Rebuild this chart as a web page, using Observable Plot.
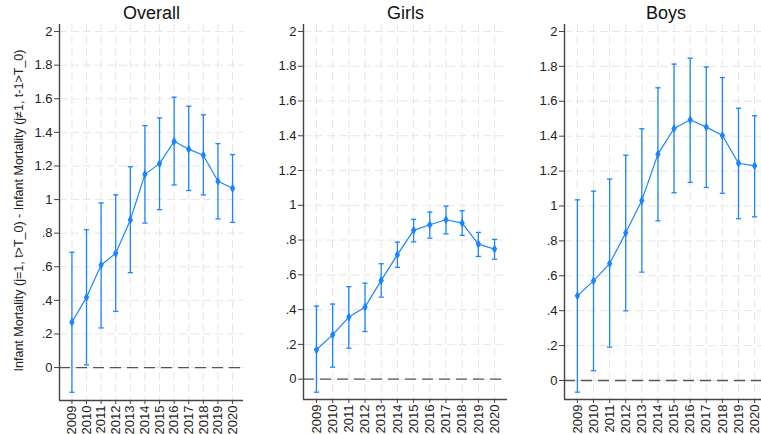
<!DOCTYPE html>
<html><head><meta charset="utf-8">
<script src="https://cdn.jsdelivr.net/npm/d3@7"></script>
<script src="https://cdn.jsdelivr.net/npm/@observablehq/plot@0.6"></script>
<style>
html,body{margin:0;padding:0;background:#fff;overflow:hidden}
#wrap{position:relative;width:761px;height:434px;overflow:hidden;background:#fff}
#wrap svg{position:absolute;top:0}
</style></head><body><div id="wrap"></div>
<script>
const years = [2009,2010,2011,2012,2013,2014,2015,2016,2017,2018,2019,2020];
const yTicks = [0,0.2,0.4,0.6,0.8,1,1.2,1.4,1.6,1.8,2];
const panelTitles = ["Overall","Girls","Boys"];
const yTitle = "Infant Mortality (j=1, t>T_0) - Infant Mortality (j\u22601, t-1>T_0)";

const overallEst = [0.27,0.418,0.611,0.68,0.879,1.15,1.214,1.347,1.30,1.264,1.109,1.067];
const overallLo  = [-0.147,0.016,0.236,0.335,0.565,0.86,0.94,1.087,1.054,1.028,0.885,0.865];
const overallHi  = [0.686,0.82,0.98,1.028,1.195,1.44,1.486,1.609,1.556,1.504,1.333,1.268];

const girlsEst = [0.169,0.255,0.357,0.414,0.568,0.716,0.856,0.888,0.917,0.898,0.777,0.748];
const girlsLo  = [-0.075,0.069,0.178,0.274,0.472,0.643,0.79,0.811,0.836,0.827,0.706,0.69];
const girlsHi  = [0.42,0.432,0.532,0.552,0.664,0.788,0.919,0.961,0.995,0.969,0.844,0.804];

const boysEst = [0.485,0.571,0.67,0.846,1.032,1.297,1.444,1.494,1.452,1.404,1.245,1.23];
const boysLo  = [-0.067,0.056,0.191,0.399,0.621,0.915,1.076,1.135,1.106,1.073,0.927,0.938];
const boysHi  = [1.035,1.085,1.154,1.291,1.442,1.677,1.813,1.847,1.796,1.736,1.56,1.517];

const blue = "#1a85ff";
const font = "'Liberation Sans', Arial, Helvetica, sans-serif";
const cap = {draw(ctx, size){ const r = Math.sqrt(size/Math.PI); ctx.moveTo(-r,0); ctx.lineTo(r,0); }};
const fmt = d => d === 0 ? "0" : String(+d.toFixed(1)).replace(/^0\./, ".");

function panel({title, est, lo, hi, left, width, marginLeft, marginRight, marginBottom, xDomain, yDomain, withYTitle}) {
  const data = years.map((year, i) => ({year, est: est[i], lo: lo[i], hi: hi[i]}));
  const marks = [
    Plot.gridX(years, {stroke: "#e6e6e6", strokeOpacity: 1, strokeDasharray: "8,4"}),
    Plot.gridY(yTicks, {stroke: "#e6e6e6", strokeOpacity: 1, strokeDasharray: "8,4"}),
    Plot.ruleY([0], {stroke: "#555", strokeWidth: 1.3, strokeDasharray: "11,6"}),
    Plot.ruleX([xDomain[0]], {stroke: "#444", strokeWidth: 1.4}),
    Plot.ruleY([yDomain[0]], {stroke: "#444", strokeWidth: 1.4}),
    Plot.axisY(yTicks, {tickFormat: fmt, tickSize: 5, tickPadding: 2, fontSize: 13, label: null, stroke: "#444", fill: "#222"}),
    Plot.axisX(years, {tickFormat: d => String(d), tickRotate: -90, tickSize: 4, tickPadding: 1, fontSize: 13, label: null, stroke: "#444", fill: "#222"}),
    Plot.ruleX(data, {x: "year", y1: "lo", y2: "hi", stroke: blue, strokeWidth: 1.3}),
    Plot.dot(data, {x: "year", y: "lo", symbol: cap, r: 2.6, fill: "none", stroke: blue, strokeWidth: 1.3}),
    Plot.dot(data, {x: "year", y: "hi", symbol: cap, r: 2.6, fill: "none", stroke: blue, strokeWidth: 1.3}),
    Plot.line(data, {x: "year", y: "est", stroke: blue, strokeWidth: 1.2}),
    Plot.dot(data, {x: "year", y: "est", symbol: "diamond", r: 2.8, fill: blue}),
    Plot.text([title], {frameAnchor: "top", lineAnchor: "bottom", dy: -6, fontSize: 18, fill: "#111"})
  ];
  if (withYTitle) marks.push(Plot.text([yTitle], {frameAnchor: "left", textAnchor: "middle", rotate: -90, dx: -41, dy: -2, fontSize: 12.5, fill: "#222"}));
  const svg = Plot.plot({
    width, height: 434, marginLeft, marginRight, marginTop: 24, marginBottom,
    style: {fontFamily: font, background: "transparent", overflow: "visible"},
    x: {type: "linear", domain: xDomain},
    y: {domain: yDomain},
    marks
  });
  svg.style.left = left + "px";
  document.getElementById("wrap").appendChild(svg);
}

panel({title: panelTitles[0], est: overallEst, lo: overallLo, hi: overallHi, left: 0, width: 250,
  marginLeft: 59, marginRight: 7, marginBottom: 34, xDomain: [2008.15, 2020.75], yDomain: [-0.196, 2.042], withYTitle: true});
panel({title: panelTitles[1], est: girlsEst, lo: girlsLo, hi: girlsHi, left: 250, width: 262,
  marginLeft: 53, marginRight: 5, marginBottom: 35, xDomain: [2008.2, 2020.8], yDomain: [-0.117, 2.04]});
panel({title: panelTitles[2], est: boysEst, lo: boysLo, hi: boysHi, left: 505, width: 268,
  marginLeft: 59, marginRight: 6, marginBottom: 35, xDomain: [2008.2, 2020.8], yDomain: [-0.109, 2.04]});
</script></body></html>
